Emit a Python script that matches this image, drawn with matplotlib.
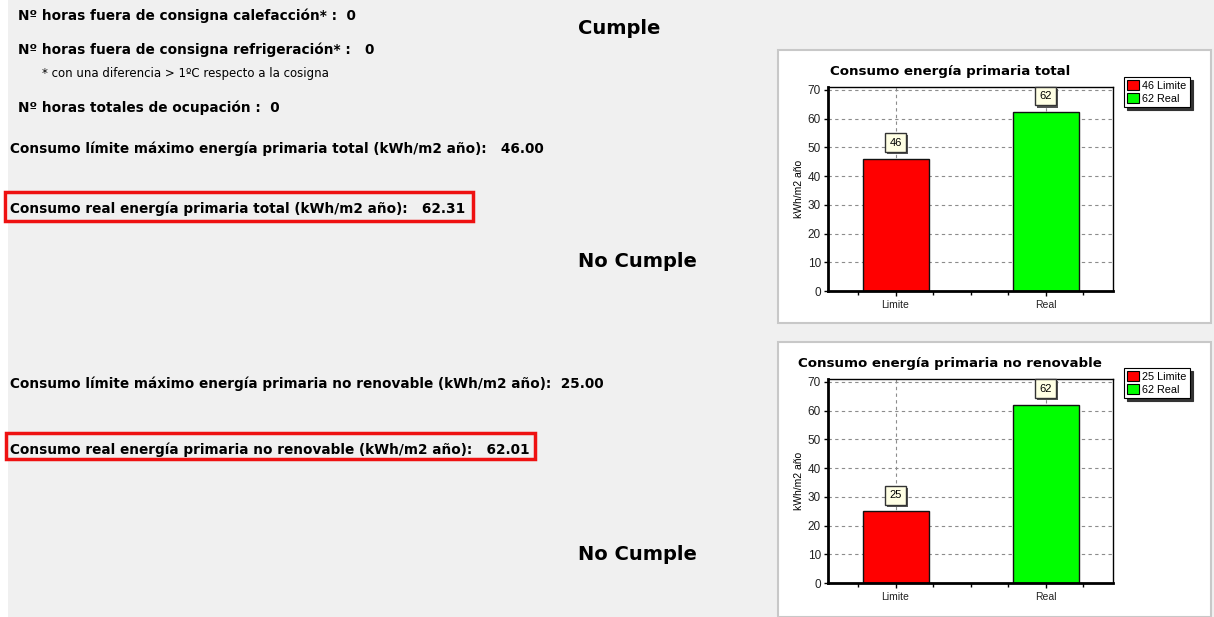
import matplotlib
matplotlib.use("Agg")
import matplotlib.pyplot as plt
import matplotlib.patheffects as pe
from matplotlib.patches import Rectangle, Patch
from matplotlib.ticker import MultipleLocator

# Datos del informe
categorias = ["Limite", "Real"]
consumo_total = [46.00, 62.31]
consumo_no_renovable = [25.00, 62.01]
horas_calefaccion = 0
horas_refrigeracion = 0
horas_ocupacion = 0
colores_barras = ["#ff0000", "#00ff00"]

W, H = 1214, 617
FONDO = "#f0f0f0"


def fx(x):
    return x / W


def fy(y):
    return 1 - y / H


def caja_px(fig, x0, y0, x1, y1, **kw):
    """Rectangulo en pixeles (origen arriba a la izquierda)"""
    r = Rectangle((fx(x0), fy(y1)), fx(x1) - fx(x0), fy(y0) - fy(y1),
                  transform=fig.transFigure, **kw)
    fig.patches.append(r)
    return r


def grafico(fig, top, bottom, titulo, titulo_y, leg_y, valores):
    ax = fig.add_axes([fx(828), fy(bottom), fx(1113) - fx(828), fy(top) - fy(bottom)])
    ax.set_facecolor("white")
    x = range(len(categorias))
    ax.bar(x, valores, width=0.44, color=colores_barras, edgecolor="#111111", linewidth=1.0, zorder=2)
    ax.set_xlim(-0.45, 1.45)
    ax.set_ylim(0, 71)
    ax.set_xticks(list(x))
    ax.set_xticklabels(categorias, fontsize=7.5, family="Liberation Sans", color="#222222")
    ax.xaxis.set_minor_locator(MultipleLocator(0.25))
    ax.yaxis.set_major_locator(MultipleLocator(10))
    ax.tick_params(axis="y", labelsize=8.5, length=3, width=1, pad=2, labelcolor="#222222")
    ax.tick_params(axis="x", which="major", length=3.5, width=1, pad=3)
    ax.tick_params(axis="x", which="minor", length=3, width=1)
    for lab in ax.get_yticklabels():
        lab.set_family("Liberation Sans")
    ax.grid(True, which="major", color="#8c8c8c", linestyle=(0, (3, 3)), linewidth=0.8)
    ax.set_axisbelow(True)
    for lado in ["top", "right"]:
        ax.spines[lado].set_linewidth(1.0)
    for lado in ["left", "bottom"]:
        ax.spines[lado].set_linewidth(2.0)
    ax.set_ylabel("kWh/m2 año", fontsize=7.5, family="Liberation Sans", labelpad=3)

    # etiquetas de valor sobre las barras
    for i, v in enumerate(valores):
        t = ax.annotate(f"{v:.0f}", (i, v), xytext=(0, 11.5), textcoords="offset points",
                        ha="center", va="center", fontsize=8, family="Liberation Sans",
                        bbox=dict(boxstyle="square,pad=0.4", fc="#ffffe4", ec="#333333", lw=1))
        t.get_bbox_patch().set_path_effects(
            [pe.withSimplePatchShadow(offset=(1.5, -1.5), shadow_rgbFace="#555555", alpha=1)])

    fig.text(fx(950), fy(titulo_y), titulo, ha="center", va="center",
             fontsize=9.6, fontweight="bold", family="DejaVu Sans")

    handles = [Patch(facecolor=c, edgecolor="black", linewidth=0.8) for c in colores_barras]
    etiquetas = [f"{v:.0f} {c}" for v, c in zip(valores, categorias)]
    leg = ax.legend(handles, etiquetas, loc="upper left", bbox_to_anchor=(fx(1124), fy(leg_y)),
                    bbox_transform=fig.transFigure, prop={"family": "Liberation Sans", "size": 7.8},
                    frameon=True, fancybox=False, shadow={"color": "#333333", "alpha": 1},
                    framealpha=1, edgecolor="black",
                    handlelength=1.1, handleheight=1.0, handletextpad=0.3, labelspacing=0.2,
                    borderpad=0.3, borderaxespad=0)
    leg.get_frame().set_linewidth(0.8)
    return ax


fig = plt.figure(figsize=(W / 100, H / 100), dpi=100, facecolor=FONDO)

# franja blanca a la izquierda
caja_px(fig, 0, 0, 8, H, facecolor="white", edgecolor="none", zorder=-2)

# paneles blancos de los graficos
caja_px(fig, 778, 50, 1211, 323, facecolor="white", edgecolor="#c8c8c8", linewidth=1.5, zorder=-2)
caja_px(fig, 778, 342, 1211, 617, facecolor="white", edgecolor="#c8c8c8", linewidth=1.5, zorder=-2)

negrita = dict(fontsize=9.8, fontweight="bold", family="DejaVu Sans", va="center", ha="left")

fig.text(fx(18), fy(16), f"Nº horas fuera de consigna calefacción* :  {horas_calefaccion}", **negrita)
fig.text(fx(18), fy(50), f"Nº horas fuera de consigna refrigeración* :   {horas_refrigeracion}", **negrita)
fig.text(fx(42), fy(73), "* con una diferencia > 1ºC respecto a la cosigna",
         fontsize=8.5, family="DejaVu Sans", va="center", ha="left")
fig.text(fx(18), fy(108), f"Nº horas totales de ocupación :  {horas_ocupacion}", **negrita)

fig.text(fx(10), fy(149),
         f"Consumo límite máximo energía primaria total (kWh/m2 año):   {consumo_total[0]:.2f}", **negrita)
fig.text(fx(10), fy(209),
         f"Consumo real energía primaria total (kWh/m2 año):   {consumo_total[1]:.2f}", **negrita)
caja_px(fig, 5, 192, 473, 221, facecolor="none", edgecolor="#ee1111", linewidth=2.5)

fig.text(fx(10), fy(384),
         f"Consumo límite máximo energía primaria no renovable (kWh/m2 año):  {consumo_no_renovable[0]:.2f}", **negrita)
fig.text(fx(10), fy(450),
         f"Consumo real energía primaria no renovable (kWh/m2 año):   {consumo_no_renovable[1]:.2f}", **negrita)
caja_px(fig, 6, 433, 535, 459, facecolor="none", edgecolor="#ee1111", linewidth=2.5)

grande = dict(fontsize=14, fontweight="bold", family="DejaVu Sans", va="center", ha="left")
fig.text(fx(578), fy(28), "Cumple", **grande)
fig.text(fx(578), fy(262), "No Cumple", **grande)
fig.text(fx(578), fy(554), "No Cumple", **grande)

grafico(fig, 87, 291, "Consumo energía primaria total", 71, 77, consumo_total)
grafico(fig, 379, 583, "Consumo energía primaria no renovable", 363, 368, consumo_no_renovable)

fig.savefig("out.png", dpi=100, facecolor=FONDO)
